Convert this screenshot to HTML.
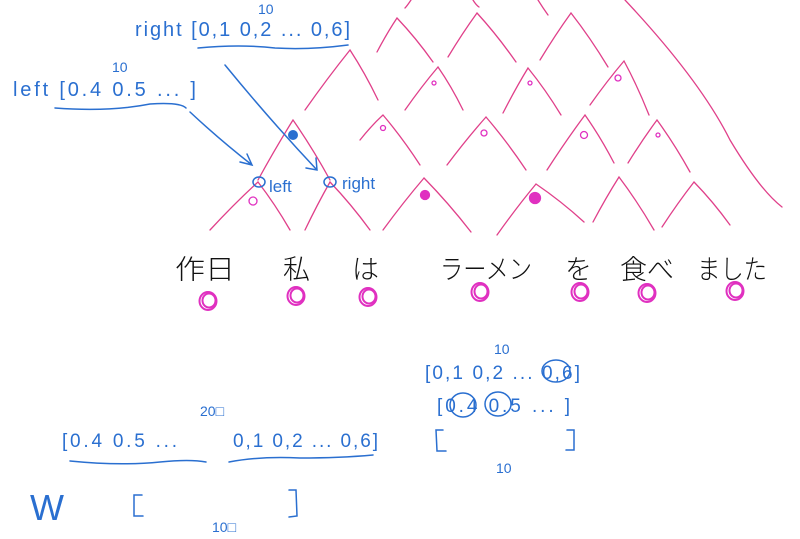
<!DOCTYPE html>
<html><head><meta charset="utf-8"><style>
html,body{margin:0;padding:0;background:#fff;}
svg{display:block}
.b{fill:#2a6fd0;font-family:"Liberation Sans",sans-serif;}
.j{fill:#111;font-family:"Liberation Sans","Noto Sans CJK JP",sans-serif;font-size:27px;font-weight:300}
.pk{fill:none;stroke:#e0408a;stroke-width:1.3;stroke-linecap:round}
.bl{fill:none;stroke:#2a6fd0;stroke-width:1.5;stroke-linecap:round}
</style></head><body>
<svg id="s" width="800" height="539" viewBox="0 0 800 539">
<g id="peaks"></g>
<g>
<path class="pk" d="M625,0 Q700,80 730,140 Q760,190 782,207"/>
<path class="pk" d="M411,0 Q407,6 405,8"/>
<path class="pk" d="M473,0 Q476,5 479,7"/>
<path class="pk" d="M538,0 Q543,8 548,15"/>
</g>
<g id="dots"></g>
<circle cx="293" cy="135" r="5" fill="#2a6fd0"/>

<text class="b" x="258" y="14" font-size="14">10</text>
<text class="b" x="135" y="36" font-size="20" textLength="215" lengthAdjust="spacing">right [0,1  0,2 ... 0,6]</text>
<path class="bl" d="M198,48 Q240,44 275,48 Q310,50 348,45"/>
<text class="b" x="112" y="72" font-size="14">10</text>
<text class="b" x="13" y="96" font-size="20" textLength="183" lengthAdjust="spacing">left [0.4 0.5  ...  ]</text>
<path class="bl" d="M55,108 Q110,112 150,104 Q180,102 186,108"/>
<path class="bl" d="M190,112 Q220,140 252,165 M240,162 L252,165 L247,154"/>
<path class="bl" d="M225,65 Q270,120 317,170 M306,168 L317,170 L316,158"/>
<ellipse class="bl" cx="259" cy="182" rx="6" ry="5" stroke-width="2"/>
<text class="b" x="269" y="192" font-size="17">left</text>
<ellipse class="bl" cx="330" cy="182" rx="6" ry="5" stroke-width="2"/>
<text class="b" x="342" y="189" font-size="17">right</text>

<g>
<text class="j" x="175" y="279" textLength="60" lengthAdjust="spacingAndGlyphs">作日</text>
<text class="j" x="283" y="279">私</text>
<text class="j" x="352" y="279">は</text>
<text class="j" x="440" y="279" textLength="92" lengthAdjust="spacingAndGlyphs">ラーメン</text>
<text class="j" x="565" y="279">を</text>
<text class="j" x="620" y="279">食べ</text>
<text class="j" x="697" y="279" textLength="70" lengthAdjust="spacingAndGlyphs">ました</text>
</g>
<g id="leaves"></g>

<text class="b" x="494" y="354" font-size="14">10</text>
<text class="b" x="425" y="379" font-size="19" textLength="155" lengthAdjust="spacing">[0,1  0,2 ... 0,6]</text>
<ellipse class="bl" cx="556" cy="371" rx="14" ry="11"/>
<text class="b" x="437" y="412" font-size="19" textLength="133" lengthAdjust="spacing">[0.4 0.5    ...  ]</text>
<ellipse class="bl" cx="463" cy="405" rx="13" ry="12"/>
<ellipse class="bl" cx="498" cy="404" rx="13" ry="12"/>
<path class="bl" d="M443,430 L436,430 L437,451 L446,451 M567,430 L574,430 L574,450 L566,450"/>
<text class="b" x="496" y="473" font-size="14">10</text>

<text class="b" x="200" y="416" font-size="14">20□</text>
<text class="b" x="62" y="447" font-size="19" textLength="115" lengthAdjust="spacing">[0.4 0.5  ...</text>
<text class="b" x="233" y="447" font-size="19" textLength="145" lengthAdjust="spacing">0,1  0,2 ... 0,6]</text>
<path class="bl" d="M70,461 Q120,466 160,462 Q190,459 206,462"/>
<path class="bl" d="M229,462 Q260,456 300,458 Q340,458 373,455"/>
<text class="b" x="30" y="520" font-size="36" font-weight="300">W</text>
<path class="bl" d="M142,495 L134,495 L134,516 L143,516 M289,490 L296,490 L297,516 L289,517"/>
<text class="b" x="212" y="532" font-size="14">10□</text>
</svg>
<script>
const apexX=[350,293,258,330,397,477,571,438,528,624,383,486,585,657,424,536,619,694];
const apexY=[50,120,182,182,18,13,13,67,68,61,115,117,115,120,178,184,177,182];
const leftX=[305,258,210,305,377,448,540,405,503,590,360,447,547,628,383,497,593,662];
const leftY=[110,180,230,230,52,57,60,110,113,105,140,165,170,163,230,235,222,227];
const rightX=[378,330,290,370,433,516,608,463,561,649,420,526,614,690,471,584,654,730];
const rightY=[100,180,230,230,62,62,67,110,115,115,165,170,163,172,232,222,230,225];
const dotX=[434,530,618,383,484,584,658,425,535,253];
const dotY=[83,83,78,128,133,135,135,195,198,201];
const dotR=[2,2,3,2.5,3,3.5,2,4.5,5.5,4];
const leafX=[208,296,368,480,580,647,735];
const leafY=[301,296,297,292,292,293,291];
const NS="http://www.w3.org/2000/svg";
const pg=document.getElementById('peaks');
for(let i=0;i<apexX.length;i++){
  const p=document.createElementNS(NS,'path');
  p.setAttribute('class','pk');
  p.setAttribute('d',`M${leftX[i]},${leftY[i]} Q${(leftX[i]+apexX[i])/2},${(leftY[i]+apexY[i])/2-2} ${apexX[i]},${apexY[i]} Q${(rightX[i]+apexX[i])/2+1},${(rightY[i]+apexY[i])/2-2} ${rightX[i]},${rightY[i]}`);
  
  
  pg.appendChild(p);
}
const dg=document.getElementById('dots');
for(let i=0;i<dotX.length;i++){
  const c=document.createElementNS(NS,'circle');
  c.setAttribute('cx',dotX[i]);c.setAttribute('cy',dotY[i]);c.setAttribute('r',dotR[i]);
  c.setAttribute('fill',dotR[i]>4?'#e030c0':'none');
  c.setAttribute('stroke','#e030c0');c.setAttribute('stroke-width','1.3');
  
  
  dg.appendChild(c);
}
const lg=document.getElementById('leaves');
for(let i=0;i<leafX.length;i++){
  for(let k=0;k<2;k++){
    const c=document.createElementNS(NS,'ellipse');
    c.setAttribute('cx',leafX[i]+k);c.setAttribute('cy',leafY[i]-k*0.5);
    c.setAttribute('rx',8.5-k*2);c.setAttribute('ry',9-k*2);
    c.setAttribute('fill','none');c.setAttribute('stroke','#e030c0');c.setAttribute('stroke-width','2');
    
    
    lg.appendChild(c);
  }
}
</script>
</body></html>
